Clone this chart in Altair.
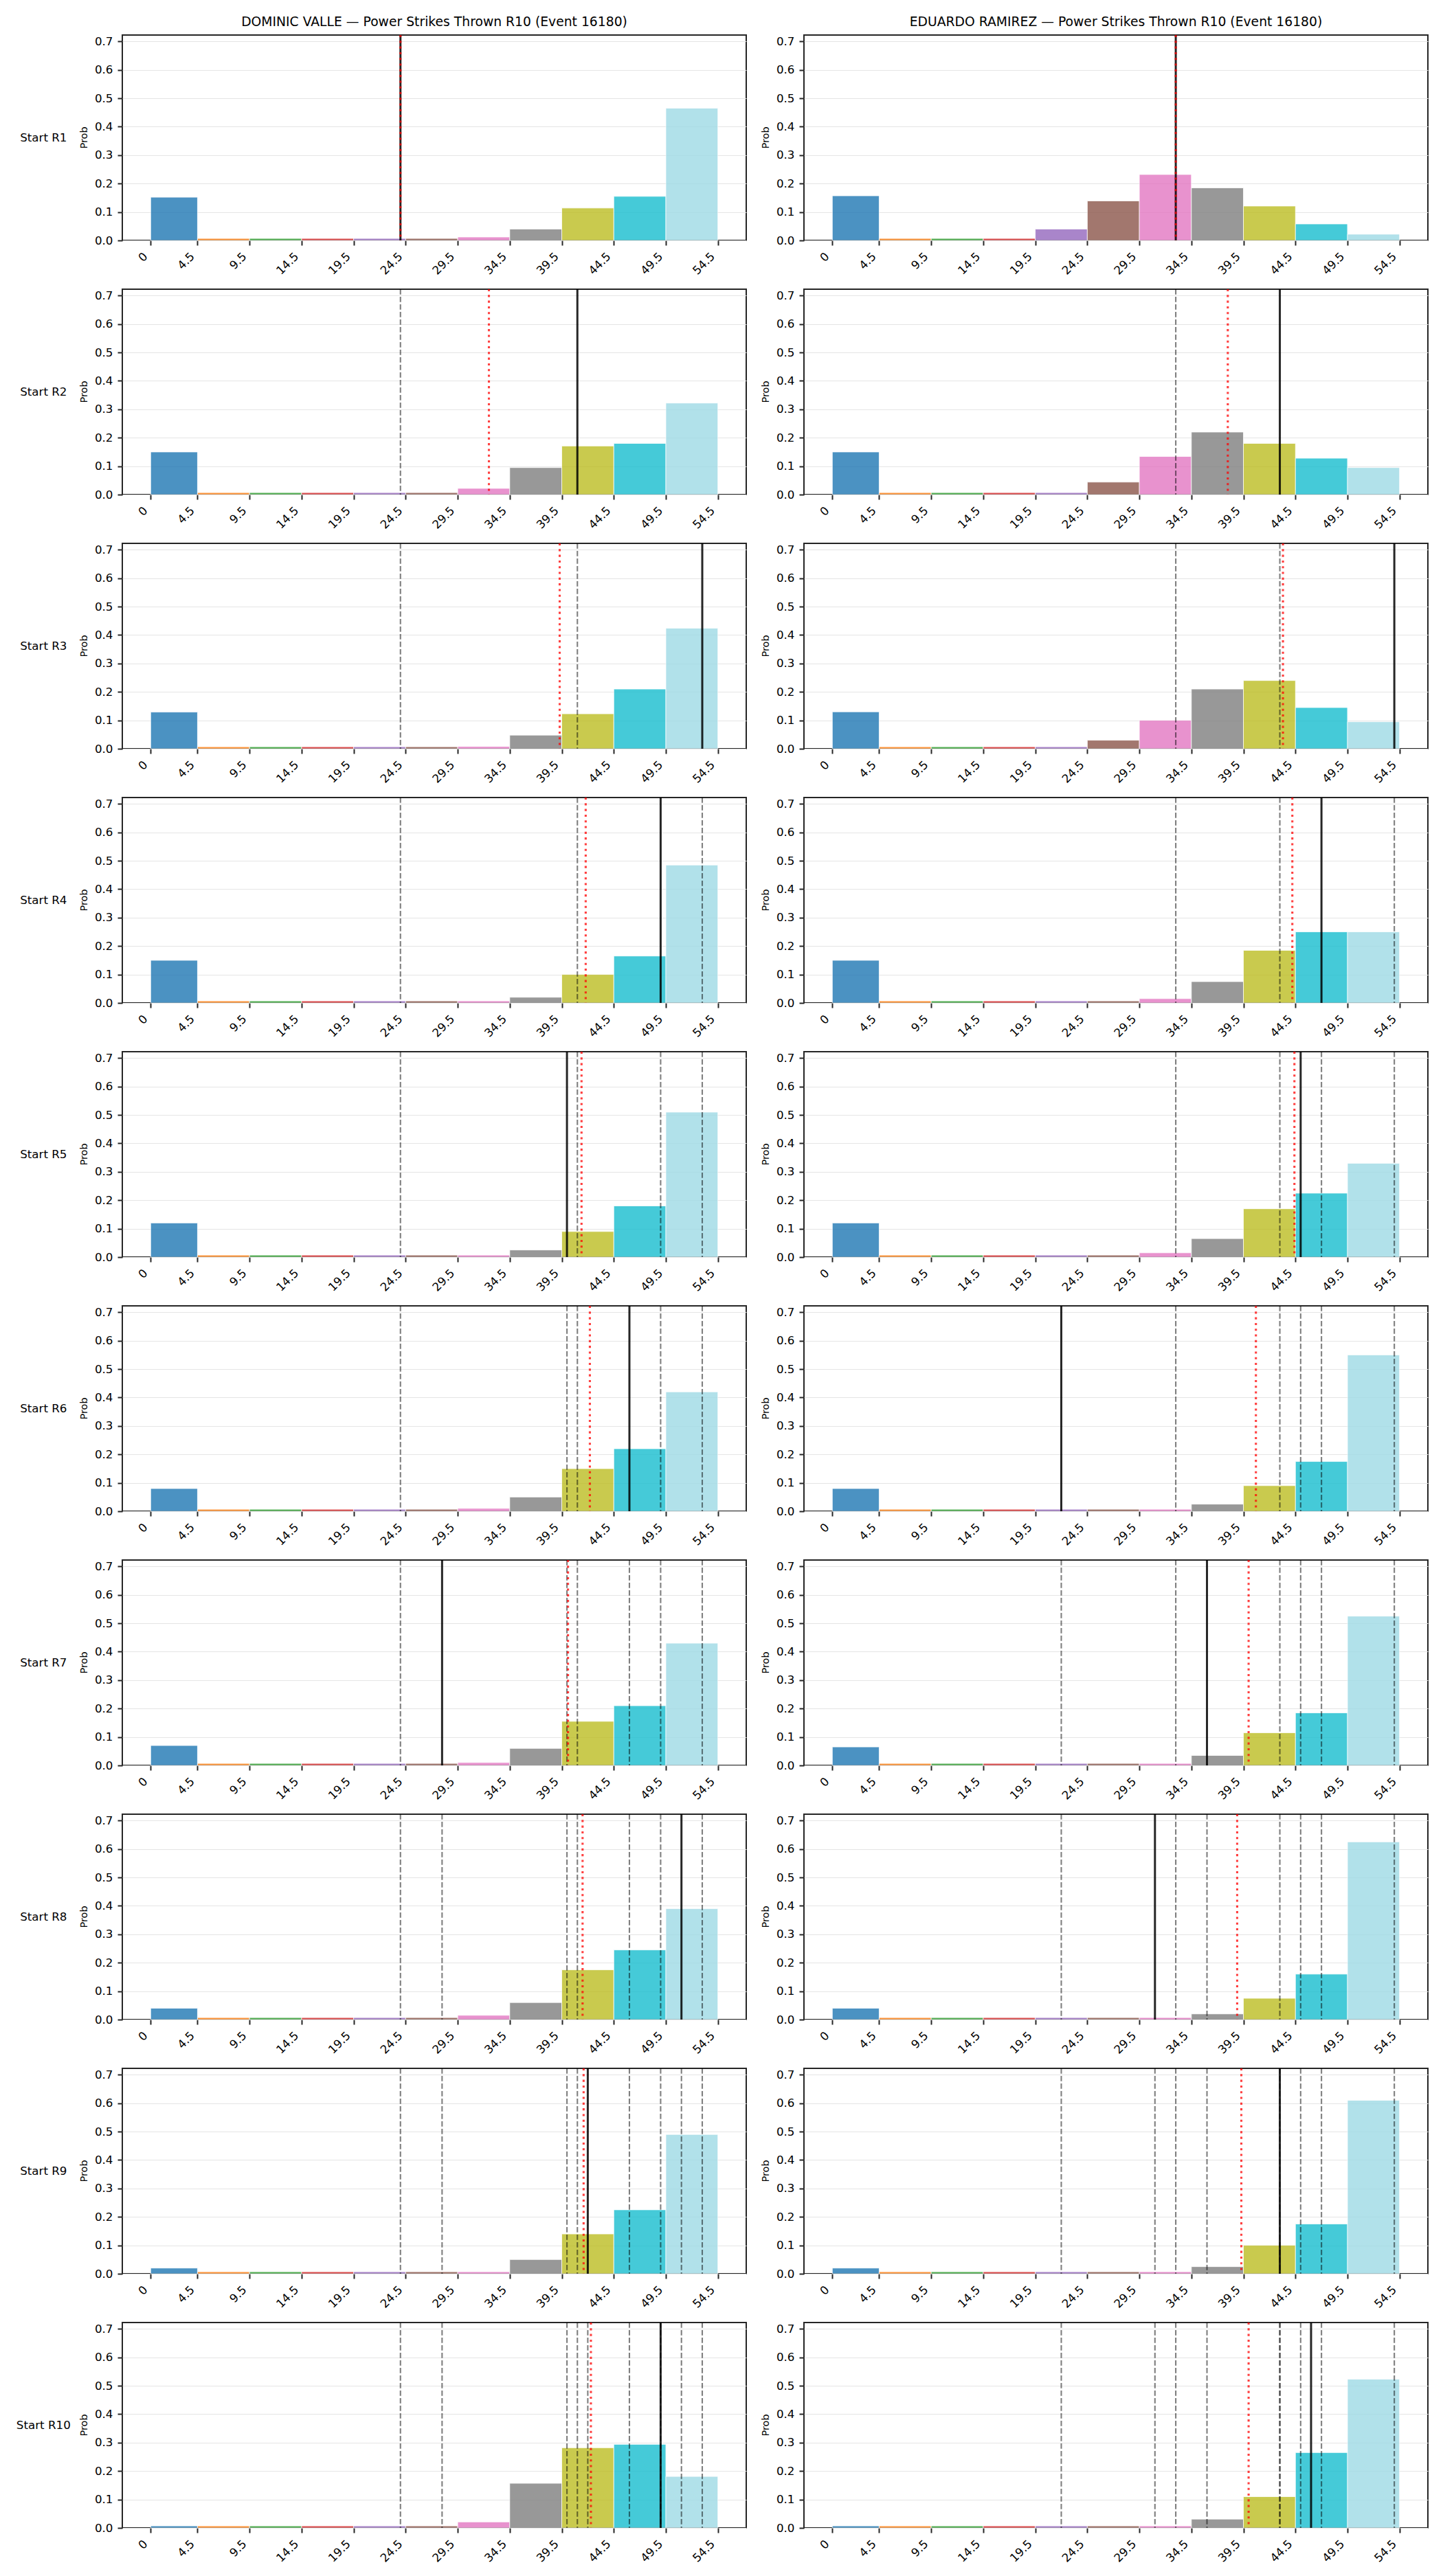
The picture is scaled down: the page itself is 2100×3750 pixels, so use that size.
import altair as alt
import pandas as pd

# ---------------- data ----------------
EDGES = [0, 4.5, 9.5, 14.5, 19.5, 24.5, 29.5, 34.5, 39.5, 44.5, 49.5, 54.5]
COLORS = ["#1f77b4", "#ff7f0e", "#2ca02c", "#d62728", "#9467bd", "#8c564b",
          "#e377c2", "#7f7f7f", "#bcbd22", "#17becf", "#9edae5"]
ROUND_LABELS = [f"Start R{i}" for i in range(1, 11)]
FIGHTERS = ["DOMINIC VALLE", "EDUARDO RAMIREZ"]
TITLE_SUFFIX = " \u2014 Power Strikes Thrown R10 (Event 16180)"
Y_TICKS = [0.0, 0.1, 0.2, 0.3, 0.4, 0.5, 0.6, 0.7]

t = 0.007  # tiny bins
DOMINIC_PROBS = [
    [0.152, t, t, t, t, t, 0.012, 0.040, 0.114, 0.155, 0.465],
    [0.150, t, t, t, t, t, 0.022, 0.095, 0.171, 0.180, 0.322],
    [0.129, t, t, t, t, t, 0.008, 0.048, 0.123, 0.210, 0.424],
    [0.150, t, t, t, t, t, t, 0.020, 0.100, 0.165, 0.485],
    [0.120, t, t, t, t, t, t, 0.025, 0.090, 0.180, 0.510],
    [0.080, t, t, t, t, t, 0.010, 0.050, 0.150, 0.220, 0.420],
    [0.070, t, t, t, t, t, 0.010, 0.060, 0.155, 0.210, 0.430],
    [0.040, t, t, t, t, t, 0.015, 0.060, 0.175, 0.245, 0.390],
    [0.020, t, t, t, t, t, t, 0.050, 0.140, 0.225, 0.490],
    [t, t, t, t, t, t, 0.021, 0.157, 0.282, 0.294, 0.181],
]
EDUARDO_PROBS = [
    [0.157, t, t, t, 0.040, 0.139, 0.232, 0.185, 0.121, 0.058, 0.022],
    [0.150, t, t, t, t, 0.044, 0.134, 0.220, 0.180, 0.128, 0.095],
    [0.130, t, t, t, t, 0.030, 0.100, 0.210, 0.240, 0.145, 0.095],
    [0.150, t, t, t, t, t, 0.015, 0.075, 0.185, 0.250, 0.250],
    [0.120, t, t, t, t, t, 0.015, 0.065, 0.170, 0.225, 0.330],
    [0.080, t, t, t, t, t, t, 0.025, 0.090, 0.175, 0.550],
    [0.065, t, t, t, t, t, t, 0.035, 0.115, 0.185, 0.525],
    [0.040, t, t, t, t, t, t, 0.020, 0.075, 0.160, 0.625],
    [0.020, t, t, t, t, t, t, 0.025, 0.100, 0.175, 0.610],
    [t, t, t, t, t, t, t, 0.031, 0.110, 0.265, 0.523],
]
DOMINIC_ACTUAL = [24, 41, 53, 49, 40, 46, 28, 51, 42, 49]
EDUARDO_ACTUAL = [33, 43, 54, 47, 45, 22, 36, 31, 43, 46]
DOMINIC_MEAN = [24.0, 32.5, 39.3, 41.8, 41.4, 42.2, 40.1, 41.5, 41.6, 42.3]
EDUARDO_MEAN = [33.0, 38.0, 43.3, 44.2, 44.4, 40.7, 40.0, 38.9, 39.3, 40.0]

# ---------------- layout ----------------
W, H = 908, 299
XDOM = [-2.725, 57.225]
YDOM = [0, 0.7225]
FONT = "DejaVu Sans"
INK = "#262626"


def xenc(field):
    return alt.X(field, type="quantitative",
                 scale=alt.Scale(domain=XDOM, nice=False, zero=False),
                 axis=alt.Axis(values=EDGES, format=".1~f", title=None,
                               labelAngle=315, labelAlign="right", labelBaseline="alphabetic",
                               labelPadding=17, labelOffset=-4, labelBound=False,
                               labelOverlap=False))


def panel(probs, prior, actual, mean, row_label=None, title=None, anchor=False):
    bars_df = pd.DataFrame({"lo": EDGES[:-1], "hi": EDGES[1:], "p": probs,
                            "z": [0.0] * len(probs), "c": COLORS})
    bars = alt.Chart(bars_df).mark_bar(opacity=0.8, stroke="white", strokeWidth=0.8).encode(
        x=xenc("lo"),
        x2="hi",
        y=alt.Y("p:Q", scale=alt.Scale(domain=YDOM, nice=False),
                axis=alt.Axis(values=Y_TICKS, format=".1f", title=None)),
        y2="z",
        color=alt.Color("c:N", scale=None),
    )
    layers = [bars]
    if prior:
        dashed = alt.Chart(pd.DataFrame({"v": prior})).mark_rule(
            color="black", opacity=0.5, strokeWidth=2.1, strokeDash=[7.7, 3.3]
        ).encode(x=xenc("v"))
        layers.append(dashed)
    solid = alt.Chart(pd.DataFrame({"v": [actual]})).mark_rule(
        color="black", opacity=0.85, strokeWidth=3
    ).encode(x=xenc("v"))
    red = alt.Chart(pd.DataFrame({"v": [mean]})).mark_rule(
        color="red", opacity=0.75, strokeWidth=3.1, strokeDash=[3.1, 5.2]
    ).encode(x=xenc("v"))
    layers += [solid, red]

    prob = alt.Chart(pd.DataFrame({"s": ["Prob"]})).mark_text(
        angle=270, align="center", baseline="middle", font=FONT, fontSize=14.5, color="black"
    ).encode(text="s:N", x=alt.value(-55), y=alt.value(H / 2))
    layers.append(prob)

    if row_label:
        rl = alt.Chart(pd.DataFrame({"s": [row_label]})).mark_text(
            align="center", baseline="middle", font=FONT, fontSize=16.7, color="black"
        ).encode(text="s:N", x=alt.value(-114.7), y=alt.value(H / 2))
        layers.append(rl)
    if title:
        tl = alt.Chart(pd.DataFrame({"s": [title]})).mark_text(
            align="center", baseline="alphabetic", font=FONT, fontSize=18.75, color="black"
        ).encode(text="s:N", x=alt.value(W / 2), y=alt.value(-13))
        layers.append(tl)
    if anchor:
        an = alt.Chart(pd.DataFrame({"s": ["."]})).mark_text(
            align="left", baseline="top", fontSize=10, opacity=0
        ).encode(text="s:N", x=alt.value(-176.7), y=alt.value(-50))
        layers.append(an)
    return alt.layer(*layers).properties(width=W, height=H)


panels = []
for i in range(10):
    panels.append(panel(DOMINIC_PROBS[i], DOMINIC_ACTUAL[:i], DOMINIC_ACTUAL[i], DOMINIC_MEAN[i],
                        row_label=ROUND_LABELS[i],
                        title=(FIGHTERS[0] + TITLE_SUFFIX) if i == 0 else None,
                        anchor=(i == 0)))
    panels.append(panel(EDUARDO_PROBS[i], EDUARDO_ACTUAL[:i], EDUARDO_ACTUAL[i], EDUARDO_MEAN[i],
                        title=(FIGHTERS[1] + TITLE_SUFFIX) if i == 0 else None))

chart = alt.concat(*panels, columns=2, spacing=alt.RowColnumber(row=71, column=84),
                   bounds="flush").properties(
    padding={"left": 0, "top": 0, "right": 0, "bottom": 0},
    background="white",
).configure_view(
    stroke=INK, strokeWidth=2
).configure_axis(
    labelFont=FONT, labelFontSize=16.7, labelColor="black",
    tickColor=INK, tickWidth=2, tickSize=7, domain=False,
).configure_axisX(
    grid=False,
).configure_axisY(
    grid=True, gridColor="#e5e5e5", gridWidth=1, labelPadding=7,
)

chart.save("out.html", embed_options={"renderer": "svg", "actions": False})
